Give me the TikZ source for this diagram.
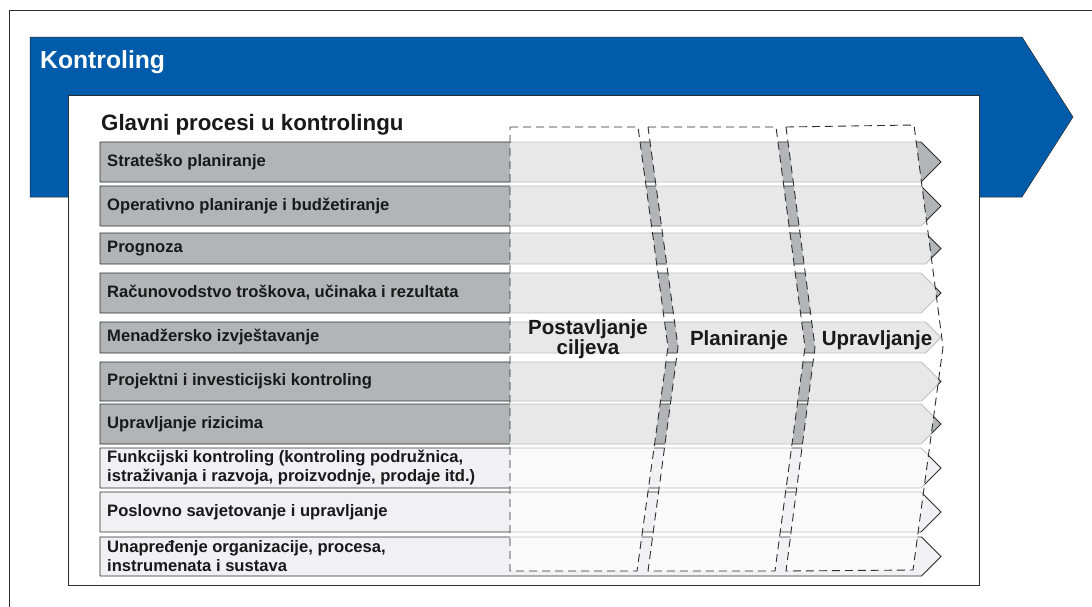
\documentclass[tikz,border=0pt]{standalone}
\usepackage{fontspec}
\setmainfont{Liberation Sans}
\usepackage{xcolor}
\definecolor{kontrolblue}{RGB}{0, 91, 170}
\definecolor{procgray}{RGB}{179, 180, 183}
\definecolor{proclight}{RGB}{241, 241, 243}
\definecolor{framegray}{RGB}{45, 45, 45}
\usetikzlibrary{calc}
% jedan red procesa: ime, vrh, dno, boja, tekst
\newcommand{\procrow}[5]{%
  \pgfmathsetmacro{\rowmid}{(#2+#3)/2}
  \pgfmathsetmacro{\rowneck}{941-(#3-#2)/2}
  \draw[rowshape, fill=#4] (100,#2) -- (\rowneck,#2) -- (941,\rowmid) -- (\rowneck,#3) -- (100,#3) -- cycle;
  \node[rowlabel] (#1) at (107,\rowmid) {#5};
}

\begin{document}
\begin{tikzpicture}[x=1pt, y=-1pt,
        rowshape/.style={draw=framegray, line width=0.9pt},
        rowlabel/.style={anchor=west, inner sep=0pt, align=left, text=black!90, font=\bfseries\fontsize{16.6}{19}\selectfont},
        phasebox/.style={draw=framegray, line width=0.9pt, dash pattern=on 8pt off 5pt, fill=white, fill opacity=0.7},
        phaselabel/.style={inner sep=0pt, align=center, text=black!90, font=\bfseries\fontsize{20.5}{16}\selectfont}]
        \useasboundingbox (0,0) rectangle (1092,606);
        \clip (0,0) rectangle (1092,606);

        % okvir i plava strelica
        \draw[framegray, line width=0.9pt] (9,10.5) rectangle (1100,620);
        \fill[kontrolblue, draw=framegray, line width=0.5pt] (30,37) -- (1022,37) -- (1073,117) -- (1022,197) -- (30,197) -- cycle;
        \node[anchor=base west, inner sep=0pt, text=white, font=\bfseries\fontsize{24.7}{28}\selectfont] (kontroling) at (40,68) {Kontroling};
        \draw[framegray, fill=white, line width=1pt] (68,95) rectangle (979,585);
        \node[anchor=base west, inner sep=0pt, text=black!90, font=\bfseries\fontsize{22.3}{26}\selectfont] (glavni) at (101,130) {Glavni procesi u kontrolingu};

        % Redovi procesa
        \procrow{strat}{142}{182}{procgray}{Strateško planiranje}
        \procrow{operat}{186}{226}{procgray}{Operativno planiranje i budžetiranje}
        \procrow{progn}{233}{264}{procgray}{Prognoza}
        \procrow{racun}{273}{313}{procgray}{Računovodstvo troškova, učinaka i rezultata}
        \procrow{menadz}{322}{353}{procgray}{Menadžersko izvještavanje}
        \procrow{projekt}{362}{401}{procgray}{Projektni i investicijski kontroling}
        \procrow{rizik}{404}{444}{procgray}{Upravljanje rizicima}
        \procrow{funkc}{448}{488}{proclight}{Funkcijski kontroling (kontroling podružnica,\\istraživanja i razvoja, proizvodnje, prodaje itd.)}
        \procrow{savjet}{492}{532}{proclight}{Poslovno savjetovanje i upravljanje}
        \procrow{unapr}{537}{576}{proclight}{Unapređenje organizacije, procesa,\\instrumenata i sustava}

        % Faze (isprekidani stupci)
        \path[phasebox] (510,127) -- (638,127) -- (668,347) -- (637,571) -- (510,571) -- cycle;
        \path[phasebox] (648,127) -- (776,127) -- (805,347) -- (775,571) -- (648,571) -- (678,347) -- cycle;
        \path[phasebox] (786,127) -- (914,125) -- (943,347) -- (913,570) -- (786,571) -- (815,347) -- cycle;

        \node[phaselabel] (ciljevi) at (588,339.5) {Postavljanje\\ciljeva};
        \node[phaselabel, anchor=base] (planiranje) at (739,345) {Planiranje};
        \node[phaselabel, anchor=base] (upravljanje) at (877,345) {Upravljanje};
    \end{tikzpicture}
\end{document}
